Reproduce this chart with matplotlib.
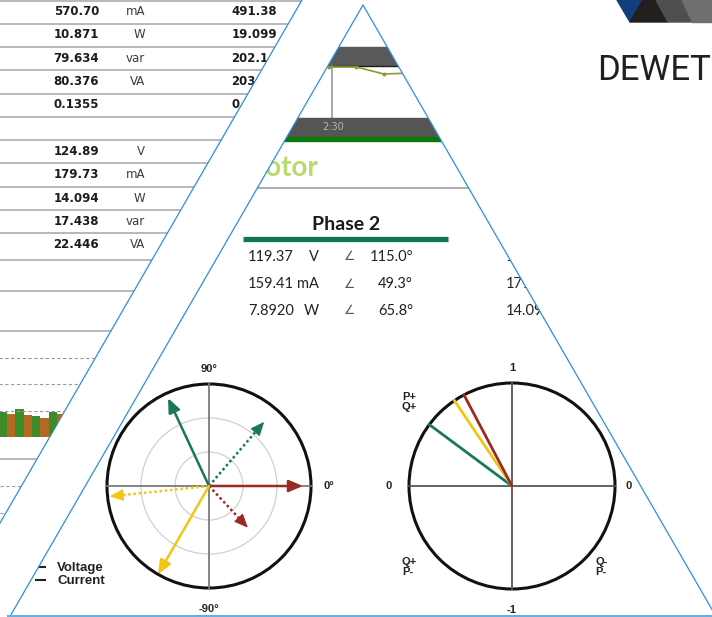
import numpy as np
import matplotlib.pyplot as plt
from matplotlib.patches import Polygon, Rectangle, Circle, PathPatch
from matplotlib.path import Path

W, H = 712, 617

# results table on the left (screenshot strip)
table_vals = ["570.70", "10.871", "79.634", "80.376", "0.1355", "",
              "124.89", "179.73", "14.094", "17.438", "22.446"]
table_units = ["mA", "W", "var", "VA", "", "", "V", "mA", "W", "var", "VA"]
table_vals_2 = ["491.38", "19.099", "202.14", "203.04", "0.0941", "",
                "", "", "", "", ""]

# bar strip under the table (interleaved green / brown)
green_bars = [0.95, 1.065, 0.80, 0.95]
brown_bars = [0.875, 0.84, 0.72, 0.875]

# little trend line in the recorder strip
trend_x = [0, 1, 2, 3, 4]
trend_y = [51, 51, 51, 44, 45]
time_labels = ["2:30", "2:45"]

# Phase 2 readout + start of phase 3 column
p2_vals = ["119.37", "159.41", "7.8920"]
p2_units = ["V", "mA", "W"]
p2_angles = ["115.0°", "49.3°", "65.8°"]
p3_vals = ["124.89", "179.73", "14.094"]

# phasors: phase 1 (red), phase 2 (green), phase 3 (yellow)
phase_colors = ["#9a2b24", "#17785a", "#f2c614"]
v_angle = [0.0, 115.0, -120.0]
v_mag = [0.92, 0.95, 1.0]
i_angle = [-47.0, 49.3, -174.0]
i_mag = [0.56, 0.83, 0.98]
pf_angle = [117.8, 143.4, 124.0]

BLUE = "#2b8fde"
k = 1 / np.sqrt(3)
apex = (363, 5)


def diag(y):
    return 302 - y * k


fig = plt.figure(figsize=(W / 100, H / 100), dpi=100)
bg = fig.add_axes([0, 0, 1, 1])
bg.set_xlim(0, W)
bg.set_ylim(H, 0)
bg.axis("off")


def px_axes(x0, y0, x1, y1):
    ax = fig.add_axes([x0 / W, 1 - y1 / H, (x1 - x0) / W, (y1 - y0) / H])
    ax.patch.set_visible(False)
    ax.axis("off")
    return ax


left_clip = Polygon([(0, -5), (diag(-5), -5), (diag(H + 5), H + 5), (0, H + 5)],
                    closed=True, transform=bg.transData)
tri_clip = Polygon([apex, (apex[0] - 700 * k, apex[1] + 700), (apex[0] + 700 * k, apex[1] + 700)],
                   closed=True, transform=bg.transData)

# ---- left table
solid_y = [0.7, 23.5, 47, 70.2, 93.5, 116.8, 140, 163.3, 186.6, 209.9, 233.2,
           259.5, 291, 331, 459]
for y in solid_y:
    bg.plot([0, diag(y)], [y, y], color="#ababab", lw=1.2, zorder=1)
for y in [486, 513]:
    bg.plot([0, diag(y)], [y, y], color="#9a9a9a", lw=0.8, dashes=(3, 2.2), zorder=1)

row_y = 11.7 + 23.3 * np.arange(len(table_vals))
for y, v, u, v2 in zip(row_y, table_vals, table_units, table_vals_2):
    bg.text(99, y, v, ha="right", va="center", fontsize=8.5, fontweight="bold",
            color="#1c1c1c", family="DejaVu Sans", zorder=1)
    bg.text(145, y, u, ha="right", va="center", fontsize=8.5,
            color="#3a3a3a", family="DejaVu Sans", zorder=1)
    bg.text(277, y, v2, ha="right", va="center", fontsize=8.5, fontweight="bold",
            color="#1c1c1c", family="DejaVu Sans", zorder=1)

# bar strip
unit = 26.3
bx = px_axes(-1.3, 437 - 3.05 * unit, -1.3 + 8.3 * 18, 437)
bx.set_xlim(0, 18)
bx.set_ylim(0, 3.05)
pos = np.arange(len(green_bars)) * 2 + 0.5
b1 = bx.bar(pos, green_bars, width=1, color="#3c8c2c")
b2 = bx.bar(pos + 1, brown_bars, width=1, color="#b3691f")
for b in list(b1) + list(b2):
    b.set_clip_path(left_clip)
for g in [1, 2, 3]:
    ln = bx.axhline(g, color="#9a9a9a", lw=0.8, dashes=(3, 2.2))
    ln.set_clip_path(left_clip)

# ---- content inside the big triangle (recorder strip)
tri_items = [
    bg.add_patch(Rectangle((250, 47), 240, 18, color="#595959", zorder=3)),
    bg.plot([250, 490], [65.5, 65.5], color="#1e1e1e", lw=1, zorder=3)[0],
    bg.plot([332, 332], [66, 118], color="#9a9a9a", lw=1.2, zorder=3)[0],
    bg.add_patch(Rectangle((250, 118), 240, 19, color="#555555", zorder=3)),
    bg.add_patch(Rectangle((250, 137), 240, 4, color="#0b7a0b", zorder=3)),
    bg.plot([200, 530], [188, 188], color="#a0a0a0", lw=1.2, zorder=3)[0],
]
for it in tri_items:
    it.set_clip_path(tri_clip)
for x, lab in zip([322, 432], time_labels):
    bg.text(x, 127.5, lab, color="#b5b5b5", fontsize=7, va="center", zorder=4)

tx = px_axes(301, 66, 436, 118)
tx.set_xlim(-0.02, 4.9)
tx.set_ylim(0, 52)
tl = tx.plot(trend_x, trend_y, color="#8c9a2e", lw=1.2, marker="o", ms=1.8)[0]
tl.set_clip_path(tri_clip)

bg.text(240, 168, "Motor", color="#bbd971", fontsize=20, fontweight="bold",
        family="Lato", va="center", zorder=4)

bg.text(346, 225, "Phase 2", ha="center", va="center", fontsize=14,
        fontweight="bold", family="Lato", color="#1a1a1a", zorder=4)
bg.plot([243, 448], [239, 239], color="#0e7658", lw=3.8, solid_capstyle="butt", zorder=4)
for y, v, u, a, v3 in zip([257, 284, 311], p2_vals, p2_units, p2_angles, p3_vals):
    kw = dict(va="center", fontsize=10.5, color="#222222", zorder=4,
              family=["Lato", "DejaVu Sans"])
    bg.text(248, y, v, ha="left", **kw)
    bg.text(319, y, u, ha="right", **kw)
    bg.text(350, y, "\u2220", ha="center", va="center", fontsize=9,
            color="#555555", family="DejaVu Sans", zorder=4)
    bg.text(413, y, a, ha="right", **kw)
    bg.text(506, y, v3, ha="left", **kw)

# legend of the phasor plot
for y, lab in zip([567, 580], ["Voltage", "Current"]):
    bg.plot([36, 45], [y, y], color="#222222", lw=1.5, zorder=4)
    bg.text(57, y + 1, lab, va="center", fontsize=9.5, fontweight="bold",
            family="Liberation Sans", color="#222222", zorder=4)

# ---- white mask: right of the table edge, outside the big triangle
outer = [(diag(-20), -20), (W + 20, -20), (W + 20, H + 20), (diag(H + 20), H + 20), (0, 0)]
hole = [apex, (apex[0] - (H + 10 - apex[1]) * k, H + 10),
        (apex[0] + (H + 10 - apex[1]) * k, H + 10), (0, 0)]
codes = [Path.MOVETO, Path.LINETO, Path.LINETO, Path.LINETO, Path.CLOSEPOLY,
         Path.MOVETO, Path.LINETO, Path.LINETO, Path.CLOSEPOLY]
bg.add_patch(PathPatch(Path(outer + hole, codes), facecolor="white",
                       edgecolor="none", zorder=5))

# logo
logo = [([(617, 0), (643, 0), (630, 22)], "#123f7c"),
        ([(643, 0), (656, 0), (668, 22), (630, 22)], "#231f20"),
        ([(656, 0), (682, 0), (692, 22), (668, 22)], "#4f4f51"),
        ([(682, 0), (712, 0), (712, 22), (692, 22)], "#6f6f71")]
for pts, c in logo:
    bg.add_patch(Polygon(pts, closed=True, color=c, zorder=6))
bg.text(597, 80, "DEWET", fontsize=25, family="Roboto", color="#231f20",
        va="baseline", ha="left", zorder=6)

# blue frame lines
bg.plot([diag(0), diag(H)], [0, H], color=BLUE, lw=0.9, zorder=7)
bg.plot([apex[0] - (H - apex[1]) * k, apex[0], apex[0] + (H - apex[1]) * k],
        [H, apex[1], H], color=BLUE, lw=0.9, zorder=7)
bg.plot([8, W], [615.6, 615.6], color="#62b0e8", lw=2.2, zorder=7)

# ---- voltage / current phasor diagram
R = 102
cx, cy = 209, 486
ax = px_axes(cx - 130, cy - 130, cx + 130, cy + 130)
lim = 130 / R
ax.set_xlim(-lim, lim)
ax.set_ylim(-lim, lim)
for r in [1 / 3, 2 / 3]:
    ax.add_patch(Circle((0, 0), r, fill=False, ec="#d0d0d0", lw=0.9))
ax.plot([-1, 1], [0, 0], color="#7a7a7a", lw=1.3)
ax.plot([0, 0], [-1, 1], color="#7a7a7a", lw=1.3)
ax.add_patch(Circle((0, 0), 1, fill=False, ec="#111111", lw=2.2))
head = "-|>,head_length=0.7,head_width=0.3"
for ang, mag, col in zip(v_angle, v_mag, phase_colors):
    t = np.deg2rad(ang)
    ax.annotate("", xy=(mag * np.cos(t), mag * np.sin(t)), xytext=(0, 0),
                arrowprops=dict(arrowstyle=head, color=col, lw=1.8,
                                shrinkA=0, shrinkB=0, mutation_scale=12))
for ang, mag, col in zip(i_angle, i_mag, phase_colors):
    t = np.deg2rad(ang)
    u = np.array([np.cos(t), np.sin(t)])
    tip = mag * u
    ax.plot([0, tip[0] - u[0] * 8 / R], [0, tip[1] - u[1] * 8 / R], color=col,
            lw=1.8, linestyle=(0, (1, 1.1)))
    ax.annotate("", xy=tip, xytext=tip - u * 12 / R,
                arrowprops=dict(arrowstyle=head, color=col, lw=1.0,
                                shrinkA=0, shrinkB=0, mutation_scale=12))
lab = dict(fontsize=8, fontweight="bold", family="Liberation Sans", color="#222222",
           ha="center", va="center")
ax.text(0, 1.15, "90°", **lab)
ax.text(1.18, 0, "0°", **lab)
ax.text(0, -1.21, "-90°", **lab)

# ---- power factor diagram
R2 = 103
cx2 = 512
ax2 = px_axes(cx2 - 130, cy - 130, cx2 + 130, cy + 130)
lim2 = 130 / R2
ax2.set_xlim(-lim2, lim2)
ax2.set_ylim(-lim2, lim2)
ax2.plot([-1, 1], [0, 0], color="#555555", lw=1.3)
ax2.plot([0, 0], [-1, 1], color="#555555", lw=1.3)
ax2.add_patch(Circle((0, 0), 1, fill=False, ec="#111111", lw=2.2))
for i in [1, 2, 0]:
    t = np.deg2rad(pf_angle[i])
    ax2.plot([0, np.cos(t)], [0, np.sin(t)], color=phase_colors[i], lw=2.0)
ax2.text(0, 1.15, "1", **lab)
ax2.text(-1.2, 0, "0", **lab)
ax2.text(1.13, 0, "0", **lab)
ax2.text(0, -1.2, "-1", **lab)
quad = dict(lab, ha="left", linespacing=1.0)
ax2.text(-1.07, 0.82, "P+\nQ+", **quad)
ax2.text(-1.07, -0.79, "Q+\nP-", **quad)
ax2.text(0.81, -0.79, "Q-\nP-", **quad)

fig.savefig("out.png", dpi=100)
